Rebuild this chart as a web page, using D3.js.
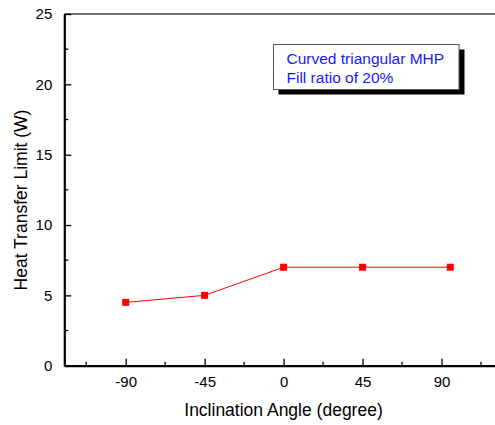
<!DOCTYPE html>
<html><head><meta charset="utf-8">
<script src="https://cdn.jsdelivr.net/npm/d3@7"></script>
<style>body{margin:0;background:#fff;overflow:hidden}svg{display:block;font-family:"Liberation Sans",Arial,sans-serif}</style>
</head><body>
<script>
const angles = [-90, -45, 0, 45, 95];
const limits = [4.5, 5.0, 7.0, 7.0, 7.0];
const xTicks = [-90, -45, 0, 45, 90];
const yTicks = [0, 5, 10, 15, 20, 25];
const legendLines = ["Curved triangular MHP", "Fill ratio of 20%"];
const xTitle = "Inclination Angle (degree)";
const yTitle = "Heat Transfer Limit (W)";

const W = 495, H = 425;
const svg = d3.select("body").append("svg").attr("width", W).attr("height", H);
const x = d3.scaleLinear().domain([-125, 125]).range([64.3, 502.9]);
const y = d3.scaleLinear().domain([0, 25]).range([365.7, 14]);
const fmt = d => String(d);

// top border
svg.append("line").attr("x1", x(-125)).attr("x2", W).attr("y1", y(25)).attr("y2", y(25))
  .attr("stroke", "#444").attr("stroke-width", 1.3);

// minor ticks
const gx = svg.append("g").attr("transform", `translate(0,${y(0)})`);
gx.selectAll("line.minor").data(d3.range(-112.5, 125, 45)).join("line")
  .attr("x1", d => x(d)).attr("x2", d => x(d)).attr("y1", 0).attr("y2", -4)
  .attr("stroke", "#000").attr("stroke-width", 1.3);
gx.call(d3.axisBottom(x).tickValues(xTicks).tickFormat(fmt).tickSize(-7).tickPadding(10.5).tickSizeOuter(0))
  .call(g => g.select(".domain").attr("stroke-width", 2.2))
  .call(g => g.selectAll(".tick line").attr("stroke-width", 1.3))
  .call(g => g.selectAll("text").attr("font-size", 15).attr("fill", "#000")
    .attr("font-family", "Liberation Sans, Arial, sans-serif"));

const gy = svg.append("g").attr("transform", `translate(${x(-125)},0)`);
gy.selectAll("line.minor").data(d3.range(2.5, 25, 5)).join("line")
  .attr("x1", 0).attr("x2", 4).attr("y1", d => y(d)).attr("y2", d => y(d))
  .attr("stroke", "#000").attr("stroke-width", 1.3);
gy.call(d3.axisLeft(y).tickValues(yTicks).tickFormat(fmt).tickSize(-7).tickPadding(12).tickSizeOuter(0))
  .call(g => g.select(".domain").attr("stroke-width", 2.2))
  .call(g => g.selectAll(".tick line").attr("stroke-width", 1.3))
  .call(g => g.selectAll("text").attr("font-size", 15).attr("fill", "#000")
    .attr("font-family", "Liberation Sans, Arial, sans-serif"));

// titles
svg.append("text").attr("x", 283.5).attr("y", 415.5).attr("text-anchor", "middle")
  .attr("font-size", 17.5).text(xTitle);
svg.append("text").attr("transform", "translate(27,200) rotate(-90)").attr("text-anchor", "middle")
  .attr("font-size", 17.5).text(yTitle);

// series
const pts = angles.map((a, i) => [a, limits[i]]);
svg.append("path").datum(pts)
  .attr("d", d3.line().x(d => x(d[0])).y(d => y(d[1])))
  .attr("fill", "none").attr("stroke", "#ff0000").attr("stroke-width", 1);
svg.selectAll("rect.pt").data(pts).join("rect")
  .attr("x", d => x(d[0]) - 3.5).attr("y", d => y(d[1]) - 3.5)
  .attr("width", 7).attr("height", 7).attr("fill", "#ff0000");

// legend
const lg = svg.append("g");
lg.append("rect").attr("x", 278.5).attr("y", 49.5).attr("width", 186).attr("height", 45).attr("fill", "#000");
lg.append("rect").attr("x", 273.5).attr("y", 44.5).attr("width", 185.5).attr("height", 45)
  .attr("fill", "#fff").attr("stroke", "#555").attr("stroke-width", 1);
lg.selectAll("text").data(legendLines).join("text")
  .attr("x", 286.5).attr("y", (d, i) => 63.5 + i * 19.3)
  .attr("font-size", 15.5).attr("fill", "#1a1aff").text(d => d);
</script>
</body></html>
